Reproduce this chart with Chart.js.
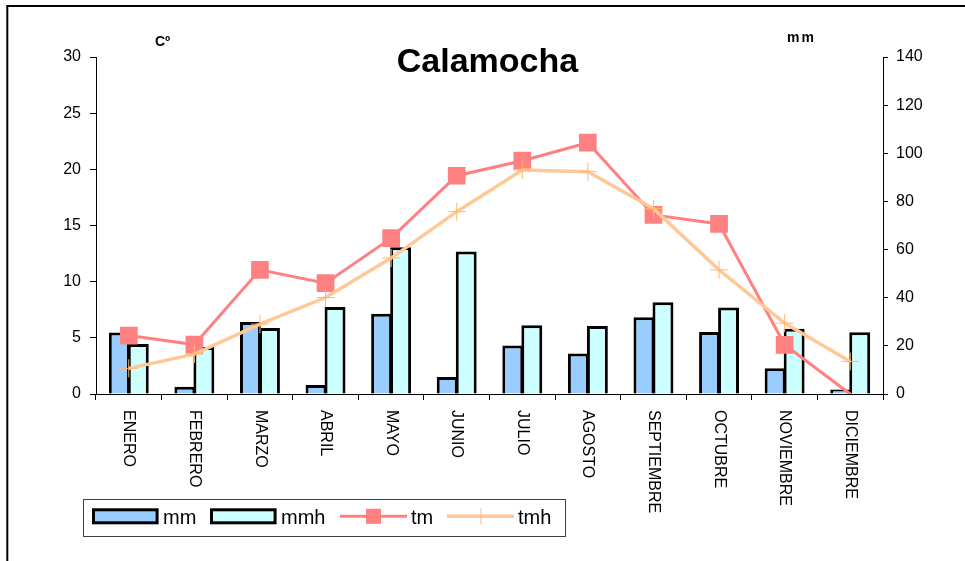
<!doctype html>
<html lang="es">
<head>
<meta charset="utf-8">
<title>Calamocha</title>
<script src="https://cdn.jsdelivr.net/npm/chart.js"></script>
<style>
  html, body { margin: 0; padding: 0; background: #fff; }
  canvas { display: block; }
</style>
</head>
<body>
<canvas id="chart" width="965" height="561"></canvas>
<script>
const months = ['ENERO', 'FEBRERO', 'MARZO', 'ABRIL', 'MAYO', 'JUNIO', 'JULIO',
  'AGOSTO', 'SEPTIEMBRE', 'OCTUBRE', 'NOVIEMBRE', 'DICIEMBRE']

// precipitacion (mm, eje derecho)
const mm = [25.6, 3.0, 29.9, 3.7, 33.3, 7.1, 20.1, 16.8, 31.9, 25.8, 10.7, 1.9]
const mmh = [20.8, 19.5, 27.4, 36.1, 61.0, 59.2, 28.6, 28.3, 38.1, 35.9, 27.1, 25.7]

// temperatura (Cº, eje izquierdo)
const tm = [5.2, 4.4, 11.05, 9.87, 13.87, 19.43, 20.77, 22.37, 15.94, 15.14, 4.38, 0]
const tmh = [2.28, 3.55, 6.22, 8.59, 12.1, 16.23, 19.94, 19.79, 16.5, 11.05, 6.31, 2.9]

const tempTicks = [0, 30, 5]
const mmTicks = [0, 140, 20]

const FONT = '"Liberation Sans", Arial, sans-serif'
Chart.defaults.font.family = FONT
Chart.defaults.font.size = 16
Chart.defaults.color = '#000'

const decor = {
  id: 'decor',
  afterDraw(chart) {
    const ctx = chart.ctx
    const x = chart.scales.x
    ctx.save()

    // marco
    ctx.strokeStyle = '#000'
    ctx.lineWidth = 2
    ctx.strokeRect(7.3, 6, 1200, 1200)

    // titulo y unidades
    ctx.fillStyle = '#000'
    ctx.textAlign = 'center'
    ctx.textBaseline = 'alphabetic'
    ctx.font = 'bold 34px ' + FONT
    ctx.fillText('Calamocha', 487.5, 72)
    ctx.textAlign = 'left'
    ctx.font = 'bold 14px ' + FONT
    ctx.fillText('Cº', 155, 46)
    ctx.letterSpacing = '2px'
    ctx.fillText('mm', 787, 42)
    ctx.letterSpacing = '0px'

    // etiquetas del eje x, giradas
    ctx.font = '16px ' + FONT
    ctx.textBaseline = 'middle'
    months.forEach((m, i) => {
      ctx.save()
      ctx.translate(x.getPixelForValue(i), x.top + 16)
      ctx.rotate(Math.PI / 2)
      ctx.fillText(m, 0, 0)
      ctx.restore()
    })

    // leyenda
    ctx.strokeStyle = '#404040'
    ctx.lineWidth = 1
    ctx.strokeRect(83.5, 499.5, 482, 37)
    const ds = chart.data.datasets
    const slots = [92, 210, 340, 447]
    const cy = 516.3
    ctx.font = '20px ' + FONT
    ctx.textBaseline = 'alphabetic'
    ds.forEach((d, i) => {
      const sx = slots[i]
      if (d.type === 'line') {
        ctx.strokeStyle = d.borderColor
        ctx.lineWidth = d.borderWidth
        ctx.beginPath()
        ctx.moveTo(sx, cy)
        ctx.lineTo(sx + 67, cy)
        ctx.stroke()
        if (d.pointStyle === 'rect') {
          ctx.fillStyle = d.pointBackgroundColor
          ctx.fillRect(sx + 26, cy - 7.5, 15, 15)
        } else {
          ctx.strokeStyle = d.pointBorderColor
          ctx.lineWidth = 1
          ctx.beginPath()
          ctx.moveTo(sx + 34, cy - 8)
          ctx.lineTo(sx + 34, cy + 8)
          ctx.stroke()
        }
        ctx.fillStyle = '#000'
        ctx.fillText(d.label, sx + 71, 524)
      } else {
        ctx.fillStyle = '#000'
        ctx.fillRect(sx, 508.3, 66.6, 16)
        ctx.fillStyle = d.backgroundColor
        ctx.fillRect(sx + 3, 511.3, 60.6, 10)
        ctx.fillStyle = '#000'
        ctx.fillText(d.label, sx + 71, 524)
      }
    })
    ctx.restore()
  }
}

new Chart(document.getElementById('chart'), {
  type: 'bar',
  data: {
    labels: months,
    datasets: [
      {
        label: 'mm',
        data: mm,
        yAxisID: 'y1',
        backgroundColor: '#99CCFF',
        borderColor: '#000',
        borderWidth: 3,
        categoryPercentage: 0.58,
        barPercentage: 1.1,
        order: 3
      },
      {
        label: 'mmh',
        data: mmh,
        yAxisID: 'y1',
        backgroundColor: '#CCFFFF',
        borderColor: '#000',
        borderWidth: 3,
        categoryPercentage: 0.58,
        barPercentage: 1.1,
        order: 4
      },
      {
        type: 'line',
        label: 'tm',
        data: tm,
        yAxisID: 'y',
        borderColor: '#FF8080',
        borderWidth: 3,
        pointStyle: 'rect',
        pointRadius: tm.map((v, i) => (i === tm.length - 1 ? 0 : 12.5)),
        pointBackgroundColor: '#FF8080',
        pointBorderWidth: 0,
        tension: 0,
        order: 2
      },
      {
        type: 'line',
        label: 'tmh',
        data: tmh,
        yAxisID: 'y',
        borderColor: '#FFC997',
        borderWidth: 3.5,
        pointStyle: 'cross',
        pointRadius: 9,
        pointBorderColor: '#FFB870',
        pointBorderWidth: 1,
        tension: 0,
        order: 1
      }
    ]
  },
  options: {
    responsive: false,
    animation: false,
    layout: { padding: { top: 57, left: 0, right: 0, bottom: 0 } },
    plugins: {
      legend: { display: false },
      tooltip: { enabled: false }
    },
    scales: {
      x: {
        ticks: { display: false },
        grid: { drawOnChartArea: false, drawTicks: true, tickLength: 6, color: '#000', offset: true },
        border: { color: '#000', width: 1 },
        afterFit(s) { s.height = 167 }
      },
      y: {
        position: 'left',
        min: tempTicks[0],
        max: tempTicks[1],
        ticks: { stepSize: tempTicks[2], padding: 9 },
        grid: { drawOnChartArea: false, tickLength: 6, color: '#000' },
        border: { color: '#000', width: 1 },
        afterFit(s) { s.width = 96 }
      },
      y1: {
        position: 'right',
        min: mmTicks[0],
        max: mmTicks[1],
        ticks: { stepSize: mmTicks[2], padding: 8 },
        grid: { drawOnChartArea: false, tickLength: 5, color: '#000' },
        border: { color: '#000', width: 1 },
        afterFit(s) { s.width = 82 }
      }
    }
  },
  plugins: [decor]
})
</script>
</body>
</html>
